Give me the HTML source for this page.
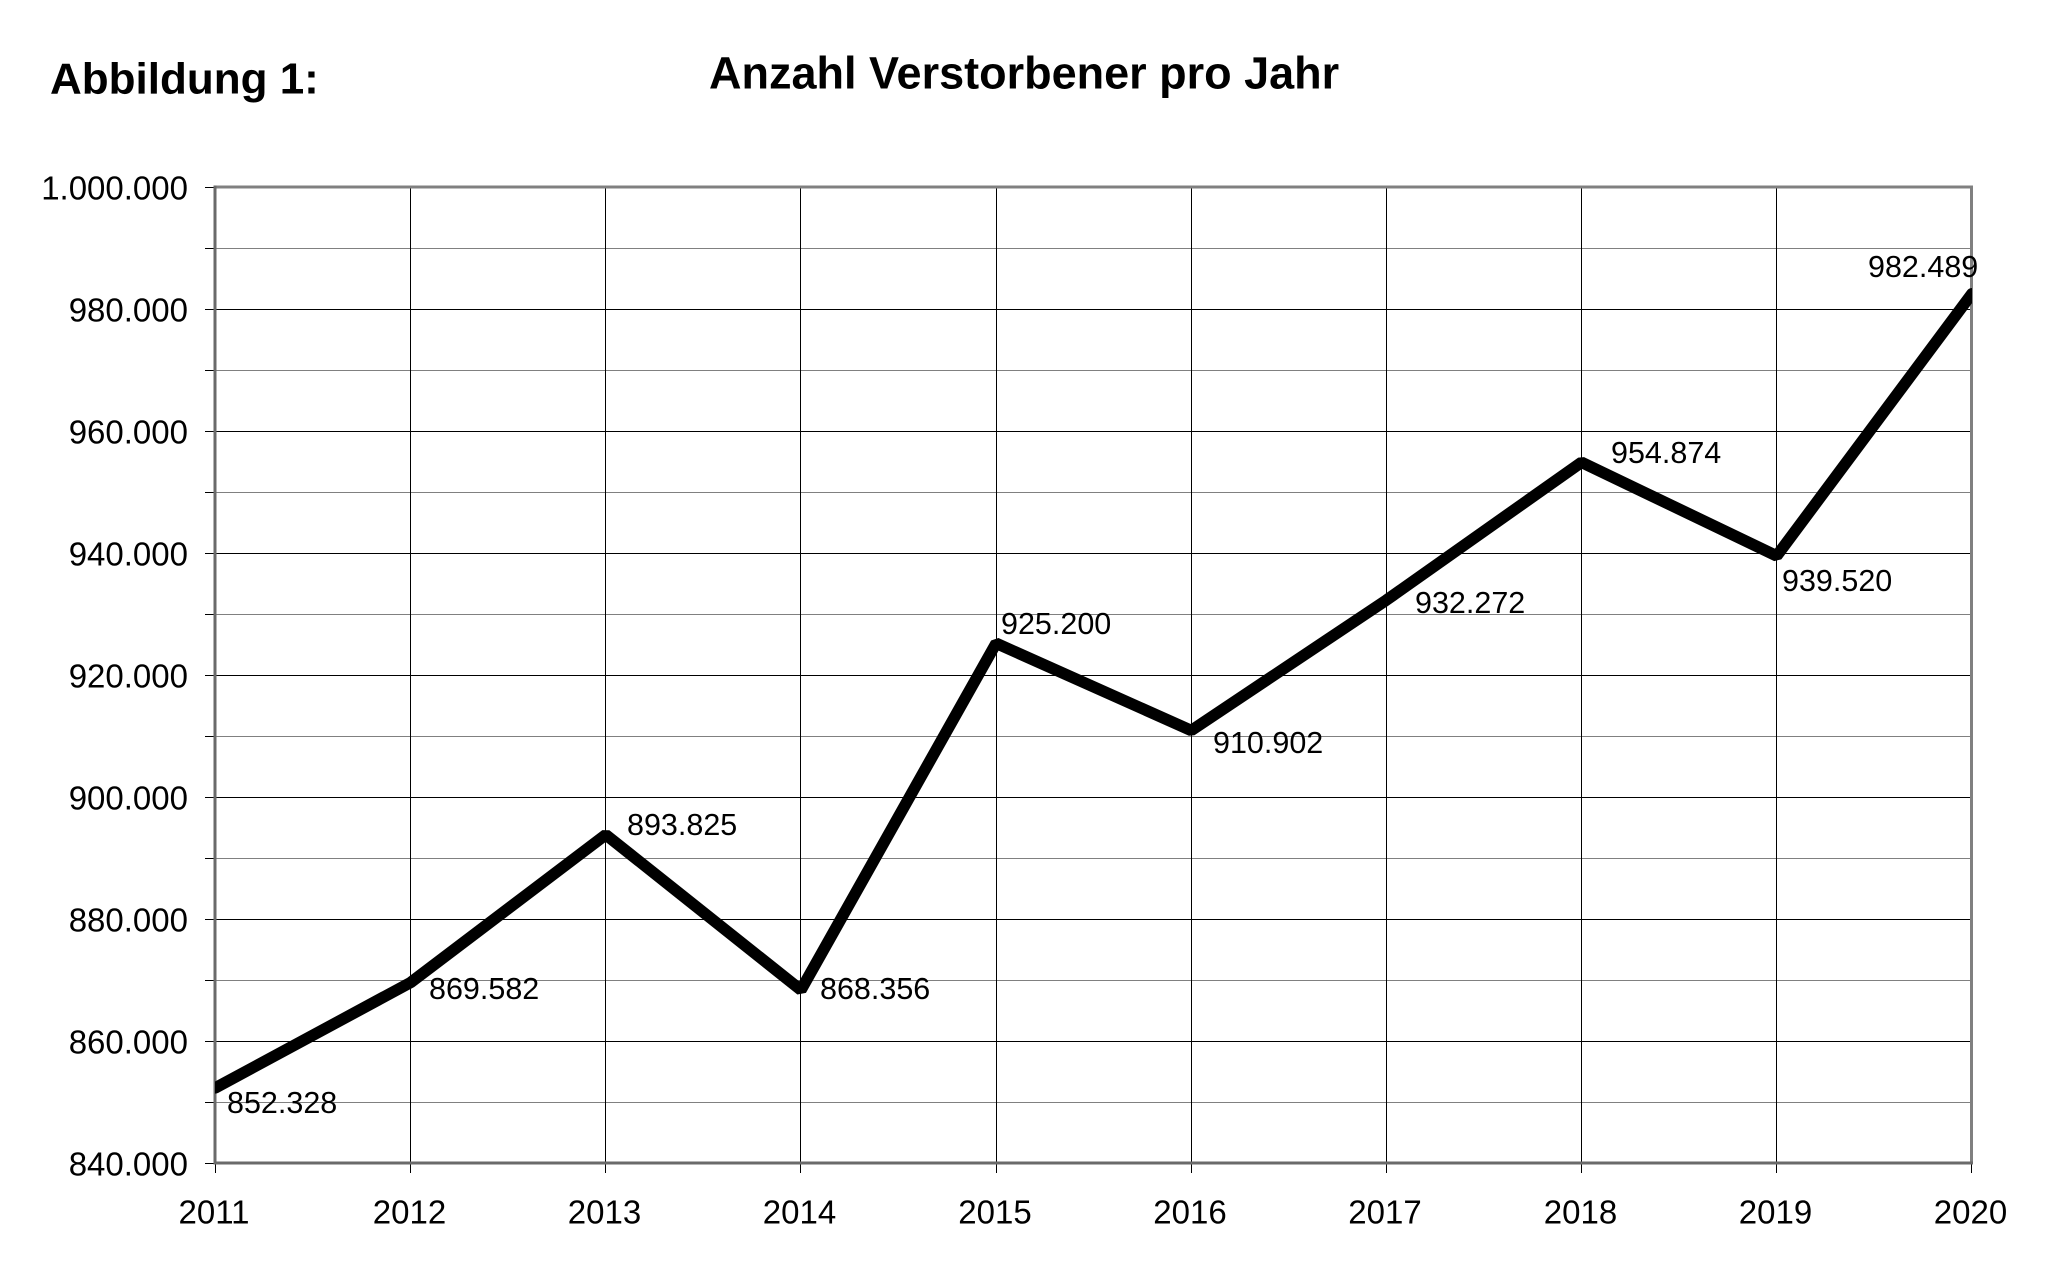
<!DOCTYPE html>
<html>
<head>
<meta charset="utf-8">
<style>
html,body{margin:0;padding:0;background:#fff;}
svg{display:block;}
text{font-family:"Liberation Sans",Arial,sans-serif;fill:#000;}
</style>
</head>
<body>
<svg width="2048" height="1274" viewBox="0 0 2048 1274" xmlns="http://www.w3.org/2000/svg">
<rect x="0" y="0" width="2048" height="1274" fill="#fff"/>
<text x="50" y="93.5" font-size="44" font-weight="bold">Abbildung 1:</text>
<text x="709" y="88.5" font-size="45" font-weight="bold">Anzahl Verstorbener pro Jahr</text>

<!-- minor gridlines (gray) -->
<g stroke="#808080" stroke-width="1">
<line x1="215" y1="248.5" x2="1972" y2="248.5"/>
<line x1="215" y1="370.5" x2="1972" y2="370.5"/>
<line x1="215" y1="492.5" x2="1972" y2="492.5"/>
<line x1="215" y1="614.5" x2="1972" y2="614.5"/>
<line x1="215" y1="736.5" x2="1972" y2="736.5"/>
<line x1="215" y1="858.5" x2="1972" y2="858.5"/>
<line x1="215" y1="980.5" x2="1972" y2="980.5"/>
<line x1="215" y1="1102.5" x2="1972" y2="1102.5"/>
</g>
<!-- major gridlines (black) -->
<g stroke="#000" stroke-width="1">
<line x1="215" y1="309.5" x2="1972" y2="309.5"/>
<line x1="215" y1="431.5" x2="1972" y2="431.5"/>
<line x1="215" y1="553.5" x2="1972" y2="553.5"/>
<line x1="215" y1="675.5" x2="1972" y2="675.5"/>
<line x1="215" y1="797.5" x2="1972" y2="797.5"/>
<line x1="215" y1="919.5" x2="1972" y2="919.5"/>
<line x1="215" y1="1041.5" x2="1972" y2="1041.5"/>
<!-- vertical gridlines -->
<line x1="410.5" y1="187" x2="410.5" y2="1163"/>
<line x1="605.5" y1="187" x2="605.5" y2="1163"/>
<line x1="800.5" y1="187" x2="800.5" y2="1163"/>
<line x1="996.5" y1="187" x2="996.5" y2="1163"/>
<line x1="1191.5" y1="187" x2="1191.5" y2="1163"/>
<line x1="1386.5" y1="187" x2="1386.5" y2="1163"/>
<line x1="1581.5" y1="187" x2="1581.5" y2="1163"/>
<line x1="1776.5" y1="187" x2="1776.5" y2="1163"/>
</g>
<!-- ticks -->
<g stroke="#000" stroke-width="1">
<line x1="205" y1="187.5" x2="215" y2="187.5"/>
<line x1="205" y1="248.5" x2="215" y2="248.5"/>
<line x1="205" y1="309.5" x2="215" y2="309.5"/>
<line x1="205" y1="370.5" x2="215" y2="370.5"/>
<line x1="205" y1="431.5" x2="215" y2="431.5"/>
<line x1="205" y1="492.5" x2="215" y2="492.5"/>
<line x1="205" y1="553.5" x2="215" y2="553.5"/>
<line x1="205" y1="614.5" x2="215" y2="614.5"/>
<line x1="205" y1="675.5" x2="215" y2="675.5"/>
<line x1="205" y1="736.5" x2="215" y2="736.5"/>
<line x1="205" y1="797.5" x2="215" y2="797.5"/>
<line x1="205" y1="858.5" x2="215" y2="858.5"/>
<line x1="205" y1="919.5" x2="215" y2="919.5"/>
<line x1="205" y1="980.5" x2="215" y2="980.5"/>
<line x1="205" y1="1041.5" x2="215" y2="1041.5"/>
<line x1="205" y1="1102.5" x2="215" y2="1102.5"/>
<line x1="205" y1="1163.5" x2="215" y2="1163.5"/>
<line x1="215.5" y1="1163" x2="215.5" y2="1173"/>
<line x1="410.5" y1="1163" x2="410.5" y2="1173"/>
<line x1="605.5" y1="1163" x2="605.5" y2="1173"/>
<line x1="800.5" y1="1163" x2="800.5" y2="1173"/>
<line x1="996.5" y1="1163" x2="996.5" y2="1173"/>
<line x1="1191.5" y1="1163" x2="1191.5" y2="1173"/>
<line x1="1386.5" y1="1163" x2="1386.5" y2="1173"/>
<line x1="1581.5" y1="1163" x2="1581.5" y2="1173"/>
<line x1="1776.5" y1="1163" x2="1776.5" y2="1173"/>
<line x1="1971.5" y1="1163" x2="1971.5" y2="1173"/>
</g>
<!-- plot border -->
<g stroke="#808080" stroke-width="3" fill="none">
<line x1="213.5" y1="187" x2="1973" y2="187"/>
<line x1="1971.5" y1="185.5" x2="1971.5" y2="1164.5"/>
</g>
<g stroke="#6a6a6a" stroke-width="3" fill="none">
<line x1="215" y1="185.5" x2="215" y2="1164.5"/>
<line x1="213.5" y1="1163" x2="1973" y2="1163"/>
</g>

<!-- data line -->
<defs><clipPath id="pa"><rect x="215" y="150" width="1757" height="1013"/></clipPath></defs>
<polyline clip-path="url(#pa)" fill="none" stroke="#000" stroke-width="11.5" stroke-linejoin="bevel" stroke-linecap="round"
 points="215.5,1087.8 410.65,982.5 605.8,834.7 800.95,990 996.1,643.3 1191.25,730.5 1386.4,600.1 1581.55,462.3 1776.7,555.9 1971.85,293.8"/>

<!-- y axis labels -->
<g font-size="33" text-anchor="end">
<text x="188" y="199.5">1.000.000</text>
<text x="188" y="321.5">980.000</text>
<text x="188" y="443.5">960.000</text>
<text x="188" y="565.5">940.000</text>
<text x="188" y="687.5">920.000</text>
<text x="188" y="809.5">900.000</text>
<text x="188" y="931.5">880.000</text>
<text x="188" y="1053.5">860.000</text>
<text x="188" y="1175.5">840.000</text>
</g>
<!-- x axis labels -->
<g font-size="33" text-anchor="middle">
<text x="214" y="1223.5">2011</text>
<text x="409.5" y="1223.5">2012</text>
<text x="604.5" y="1223.5">2013</text>
<text x="799.5" y="1223.5">2014</text>
<text x="995" y="1223.5">2015</text>
<text x="1190" y="1223.5">2016</text>
<text x="1385" y="1223.5">2017</text>
<text x="1580.5" y="1223.5">2018</text>
<text x="1775.5" y="1223.5">2019</text>
<text x="1970.5" y="1223.5">2020</text>
</g>
<!-- data labels -->
<g font-size="30.5">
<text x="227" y="1113">852.328</text>
<text x="429" y="999">869.582</text>
<text x="627" y="835">893.825</text>
<text x="820" y="999">868.356</text>
<text x="1001" y="634">925.200</text>
<text x="1213" y="753">910.902</text>
<text x="1415" y="613">932.272</text>
<text x="1611" y="463">954.874</text>
<text x="1782" y="591">939.520</text>
<text x="1868" y="277">982.489</text>
</g>
</svg>
</body>
</html>
